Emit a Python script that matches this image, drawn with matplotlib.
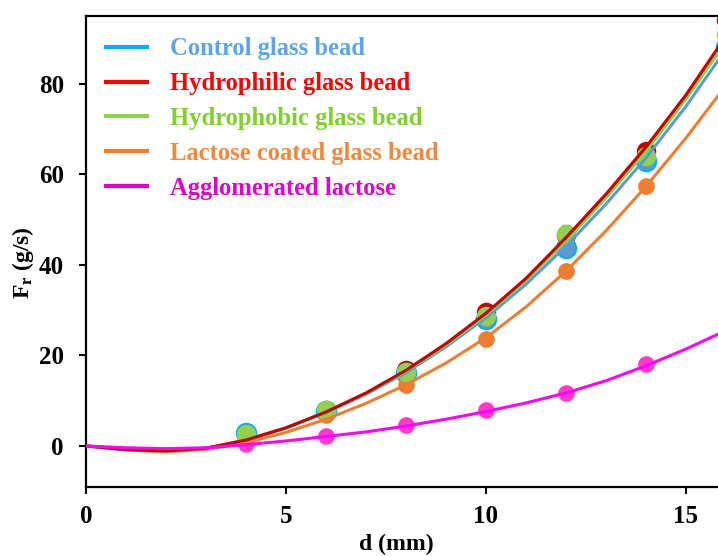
"""
Discharge rate F_r versus orifice diameter d for glass beads and lactose.
"""
import matplotlib
matplotlib.use("Agg")
import matplotlib.pyplot as plt
from matplotlib.lines import Line2D

plt.rcParams.update({
    "font.family": "Liberation Serif",
    "font.weight": "bold",
    "mathtext.fontset": "custom",
    "mathtext.rm": "Liberation Serif:bold",
    "mathtext.it": "Liberation Serif:bold",
})

# measured points
d_pts = [4, 6, 8, 10, 12, 14, 16]
control_pts = [2.8, 7.8, 16.0, 28.0, 43.6, 63.0, 88.0]
hydrophilic_pts = [2.9, 7.9, 16.8, 29.5, 46.5, 65.2, 94.0]
hydrophobic_pts = [2.6, 8.0, 16.3, 28.6, 46.7, 64.0, 91.0]
hydrophobic_err = [0, 0, 0, 0, 2.0, 0, 0]
lactose_coated_pts = [1.9, 6.8, 13.5, 23.6, 38.6, 57.4, 81.3]
agglomerated_pts = [0.5, 2.3, 4.7, 8.0, 11.7, 18.2, 26.0]

# fitted curves, every 1 mm
d_fit = list(range(0, 17))
control_fit = [0, -0.8, -1.1, -0.5, 1.3, 4.0, 7.4, 11.4, 16.2, 21.9, 28.3,
               35.7, 44.1, 53.4, 63.6, 75.0, 87.6]
hydrophilic_fit = [0, -0.8, -1.1, -0.5, 1.3, 4.0, 7.5, 11.7, 16.7, 22.6, 29.3,
                   37.0, 46.0, 55.6, 66.0, 77.5, 90.5]
hydrophobic_fit = [0, -0.8, -1.1, -0.5, 1.3, 4.0, 7.5, 11.6, 16.5, 22.3, 28.9,
                   36.5, 45.2, 54.8, 65.0, 76.6, 89.2]
lactose_coated_fit = [0, -0.9, -1.3, -0.8, 0.7, 3.0, 5.9, 9.4, 13.5, 18.3, 23.9,
                      30.7, 38.6, 47.5, 57.3, 68.0, 79.6]
agglomerated_fit = [0, -0.4, -0.6, -0.4, 0.3, 1.1, 2.1, 3.1, 4.4, 5.9, 7.6,
                    9.5, 11.7, 14.4, 17.7, 21.4, 25.5]

labels = ["Control glass bead", "Hydrophilic glass bead", "Hydrophobic glass bead",
          "Lactose coated glass bead", "Agglomerated lactose"]
label_colors = ["#5DA5E8", "#FF0000", "#7FCF2E", "#F5873D", "#E000C8"]
handle_colors = ["#00B0F0", "#FF0000", "#92D050", "#F08030", "#E800C8"]

fig = plt.figure(figsize=(7.18, 5.56), dpi=100)
ax = fig.add_axes([0.1198, 0.1246, 0.947, 0.8472])

# markers first, fitted lines drawn on top
ax.plot(d_pts, hydrophilic_pts, "o", ms=13, color="#C00000", mec="#C00000", zorder=2)
ax.plot(d_pts, control_pts, "o", ms=14, color="#5B9BD5", mec="#00B0F0", mew=1.5, zorder=2)
ax.errorbar(d_pts, hydrophobic_pts, yerr=hydrophobic_err, fmt="o", ms=13,
            color="#92D050", ecolor="#808080", elinewidth=1, capsize=3, zorder=2)
ax.plot(d_pts, lactose_coated_pts, "o", ms=11, color="#ED7D31", zorder=2)
ax.plot(d_pts, agglomerated_pts, "o", ms=11, color="#FF3CC8", zorder=2)

ax.plot(d_fit, control_fit, "-", lw=2.2, color="#5B9BD5", zorder=3)
ax.plot(d_fit, lactose_coated_fit, "-", lw=2.2, color="#ED7D31", zorder=3)
ax.plot(d_fit, hydrophobic_fit, "-", lw=2.2, color="#8CCB4C", zorder=3)
ax.plot(d_fit, hydrophilic_fit, "-", lw=2.2, color="#C00000", zorder=3)
ax.plot(d_fit, agglomerated_fit, "-", lw=2.2, color="#FF00FF", zorder=3)

ax.set_xlim(0, 17)
ax.set_ylim(-9, 95)
ax.set_xticks([0, 5, 10, 15])
ax.set_yticks([0, 20, 40, 60, 80])
ax.tick_params(direction="out", length=5, width=1.5, labelsize=18)
ax.tick_params(axis="x", pad=8)
ax.tick_params(axis="y", pad=11)
for s in ax.spines.values():
    s.set_linewidth(1.6)

ax.set_xlabel("d (mm)", fontsize=17, fontweight="bold")
ax.xaxis.set_label_coords(0.457, -0.1)
ax.set_ylabel("F$_\\mathregular{r}$ (g/s)", fontsize=17, fontweight="bold")
ax.yaxis.set_label_coords(-0.074, 0.475)

handles = [Line2D([], [], color=c, lw=3) for c in handle_colors]
ax.legend(handles, labels, loc="upper left", bbox_to_anchor=(0.029, 0.954),
          frameon=False, borderpad=0, borderaxespad=0, handlelength=1.67,
          handletextpad=0.93, labelspacing=0.48, labelcolor=label_colors,
          prop={"family": "Liberation Serif", "weight": "bold", "size": 17.7})

fig.savefig("out.png", dpi=100)
